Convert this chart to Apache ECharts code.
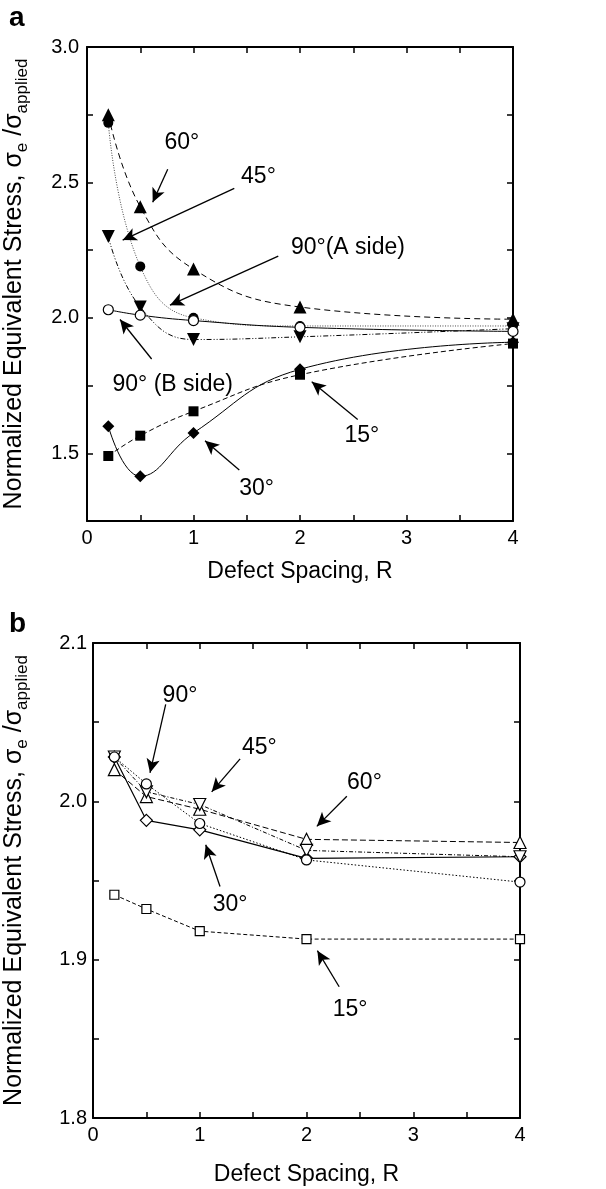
<!DOCTYPE html>
<html>
<head>
<meta charset="utf-8">
<script src="https://cdn.jsdelivr.net/npm/echarts@6/dist/echarts.min.js"></script>
<style>html,body{margin:0;padding:0;background:#fff}#c{width:606px;height:1189px}</style>
</head>
<body>
<div id="c"></div>
<script>
// ---------- data ----------
const spacingR = [0.2, 0.5, 1, 2, 4];

// panel a (filled markers)
const a60  = [2.75, 2.41, 2.18, 2.04, 1.995];
const a45  = [2.30, 2.04, 1.92, 1.93, 1.96];
const a90A = [2.72, 2.19, 2.00, 1.97, 1.97];
const a90B = [2.03, 2.01, 1.99, 1.965, 1.95];
const a15  = [1.49, 1.565, 1.655, 1.79, 1.905];
const a30  = [1.60, 1.415, 1.575, 1.81, 1.91];

// panel b (open markers)
const b15 = [1.941, 1.932, 1.918, 1.913, 1.913];
const b30 = [2.028, 1.988, 1.982, 1.964, 1.965];
const b90 = [2.028, 2.011, 1.986, 1.963, 1.949];
const b45 = [2.028, 2.006, 1.998, 1.969, 1.965];
const b60 = [2.020, 2.003, 1.995, 1.976, 1.974];

const xTicks = [0, 1, 2, 3, 4];
const yTicksA = [1.5, 2.0, 2.5, 3.0];
const yTicksB = [1.8, 1.9, 2.0, 2.1];

// annotations (data coordinates)
const annALabels = ['60°', '45°', '90°(A side)', '90° (B side)', '15°', '30°'];
const annAText = [[0.89, 2.645], [1.61, 2.52], [2.45, 2.26], [0.805, 1.752], [2.58, 1.564], [1.593, 1.37]];
const annAFrom = [[0.758, 2.549], [1.383, 2.478], [1.796, 2.228], [0.607, 1.848], [2.542, 1.625], [1.43, 1.438]];
const annATo   = [[0.617, 2.427], [0.335, 2.287], [0.779, 2.047], [0.31, 1.994], [2.11, 1.764], [1.108, 1.546]];

const annBLabels = ['90°', '45°', '60°', '30°', '15°'];
const annBText = [[0.815, 2.0665], [1.559, 2.0338], [2.543, 2.0116], [1.284, 1.9346], [2.409, 1.8682]];
const annBFrom = [[0.681, 2.0612], [1.378, 2.0268], [2.378, 2.0032], [1.19, 1.9462], [2.306, 1.8829]];
const annBTo   = [[0.534, 2.018], [1.112, 2.006], [2.097, 1.9842], [1.056, 1.9726], [2.102, 1.9057]];

// ---------- chart ----------
const FONT = 'Liberation Sans, Arial, Helvetica, sans-serif';
const chart = echarts.init(document.getElementById('c'), null, {renderer: 'canvas'});

function near(v, list) { return list.some(t => Math.abs(t - v) < 1e-6); }

const yName = 'Normalized Equivalent Stress, σ{sub|e} /σ{sub|applied}';
const yNameStyle = {
  fontSize: 25, color: '#000', fontFamily: FONT, lineHeight: 34,
  rich: { sub: { fontSize: 17, color: '#000', fontFamily: FONT, verticalAlign: 'bottom', lineHeight: 34, padding: [11, 0, 0, 0] } }
};

function xAxes(grid, gap) {
  const common = {
    type: 'value', gridIndex: grid, min: 0, max: 4, interval: 0.5,
    axisLine: {show: true, onZero: false, lineStyle: {color: '#000', width: 2}},
    axisTick: {show: true, inside: true, length: 6, lineStyle: {color: '#000', width: 1.5}},
    splitLine: {show: false}
  };
  return [
    Object.assign({}, common, {
      position: 'bottom',
      axisLabel: {show: true, color: '#000', fontSize: 20, fontFamily: FONT, margin: 7,
        formatter: v => near(v, xTicks) ? String(Math.round(v)) : ''},
      name: 'Defect Spacing, R', nameLocation: 'middle', nameGap: gap,
      nameTextStyle: {fontSize: 23, color: '#000', fontFamily: FONT}
    }),
    Object.assign({}, common, {position: 'top', axisLabel: {show: false}})
  ];
}
function yAxes(grid, min, max, interval, ticks, gap, margin) {
  const common = {
    type: 'value', gridIndex: grid, min: min, max: max, interval: interval,
    axisLine: {show: true, onZero: false, lineStyle: {color: '#000', width: 2}},
    axisTick: {show: true, inside: true, length: 6, lineStyle: {color: '#000', width: 1.5}},
    splitLine: {show: false}
  };
  return [
    Object.assign({}, common, {
      position: 'left',
      axisLabel: {show: true, color: '#000', fontSize: 20, fontFamily: FONT, margin: margin,
        formatter: v => near(v, ticks) ? v.toFixed(1) : ''},
      name: yName, nameLocation: 'middle', nameGap: gap, nameRotate: 90,
      nameTextStyle: yNameStyle
    }),
    Object.assign({}, common, {position: 'right', axisLabel: {show: false}})
  ];
}

function pts(ys) { return spacingR.map((x, i) => [x, ys[i]]); }

function lineSeries(ys, xi, yi, symbol, size, rotate, filled, dash, smooth, width, lineColor) {
  return {
    type: 'line', xAxisIndex: xi, yAxisIndex: yi, data: pts(ys),
    smooth: smooth ? 0.45 : false,
    symbol: symbol, symbolSize: size, symbolRotate: rotate,
    showAllSymbol: true,
    itemStyle: {color: filled ? '#000' : '#fff', borderColor: '#000', borderWidth: filled ? 0 : 1.2},
    lineStyle: {color: lineColor || '#000', width: width || 1, type: dash},
    z: 3
  };
}

function annotSeries(xi, yi, labels, textPos, from, to) {
  return {
    type: 'scatter', xAxisIndex: xi, yAxisIndex: yi,
    symbolSize: 1, itemStyle: {color: 'rgba(0,0,0,0)'},
    data: labels.map((l, i) => ({name: l, value: textPos[i]})),
    label: {show: true, position: ['50%', '50%'], align: 'center', verticalAlign: 'middle',
      formatter: p => p.name, color: '#000', opacity: 1, textBorderWidth: 0,
      fontSize: 23, fontFamily: FONT},
    emphasis: {disabled: true},
    silent: true, z: 5,
    markLine: {
      silent: true, symbol: ['none', 'arrow'], symbolSize: [10, 14],
      label: {show: false},
      lineStyle: {color: '#000', width: 1.3, type: 'solid'},
      data: from.map((f, i) => [{coord: f}, {coord: to[i]}])
    }
  };
}

const option = {
  animation: false,
  backgroundColor: '#fff',
  textStyle: {fontFamily: FONT},
  grid: [
    {left: 87, top: 47, width: 426, height: 474, containLabel: false, outerBoundsMode: 'none'},
    {left: 93, top: 643, width: 427, height: 475, containLabel: false, outerBoundsMode: 'none'}
  ],
  xAxis: [...xAxes(0, 39), ...xAxes(1, 45)],
  yAxis: [...yAxes(0, 1.25, 3.0, 0.25, yTicksA, 56, 8), ...yAxes(1, 1.8, 2.1, 0.05, yTicksB, 62, 6)],
  graphic: [
    {type: 'text', left: 9, top: 4, style: {text: 'a', font: 'bold 28px ' + FONT, fill: '#000'}},
    {type: 'text', left: 9, top: 610, style: {text: 'b', font: 'bold 28px ' + FONT, fill: '#000'}}
  ],
  series: [
    // panel a
    lineSeries(a60, 0, 0, 'triangle', 13, 0, true, [6, 4], true, 1),
    lineSeries(a45, 0, 0, 'triangle', 13, 180, true, [5, 2, 1, 2, 1, 2], true, 1),
    lineSeries(a90A, 0, 0, 'circle', 10, 0, true, [1, 1.5], true, 0.9, '#333'),
    lineSeries(a90B, 0, 0, 'circle', 10, 0, false, 'solid', true, 1),
    lineSeries(a15, 0, 0, 'rect', 10, 0, true, [5, 3], true, 1),
    lineSeries(a30, 0, 0, 'diamond', 12, 0, true, 'solid', true, 1),
    annotSeries(0, 0, annALabels, annAText, annAFrom, annATo),
    // panel b
    lineSeries(b15, 2, 2, 'rect', 9, 0, false, [4, 2.5], false, 1),
    lineSeries(b30, 2, 2, 'diamond', 12, 0, false, 'solid', false, 1.2),
    lineSeries(b60, 2, 2, 'triangle', 12, 0, false, [6, 3], false, 1),
    lineSeries(b45, 2, 2, 'triangle', 12, 180, false, [4, 2, 1, 2], false, 1),
    lineSeries(b90, 2, 2, 'circle', 10, 0, false, [1.5, 2], false, 1),
    annotSeries(2, 2, annBLabels, annBText, annBFrom, annBTo)
  ]
};
chart.setOption(option);
</script>
</body>
</html>
